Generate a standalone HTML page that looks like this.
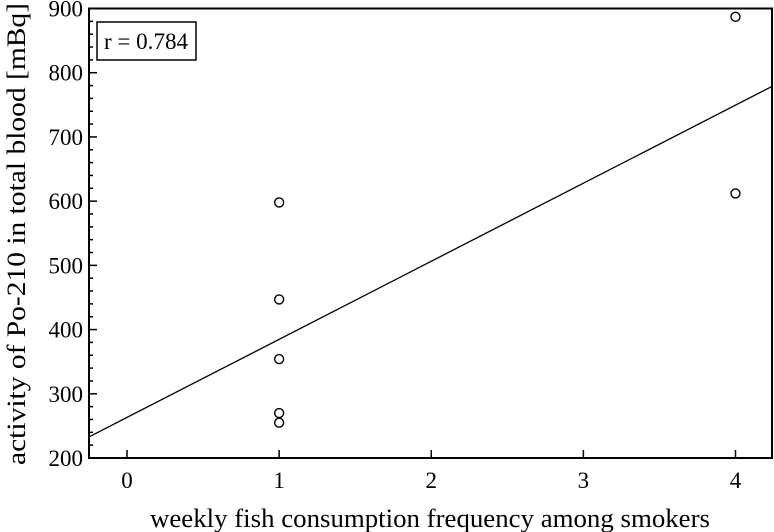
<!DOCTYPE html>
<html><head><meta charset="utf-8"><style>
body{margin:0;background:#fff}
svg{display:block;font-family:"Liberation Serif",serif}
</style></head><body>
<svg id="chart" width="774" height="532" viewBox="0 0 774 532" xmlns="http://www.w3.org/2000/svg">
<g id="axes"></g>
<g id="marks"></g>
<text x="150" y="527" font-size="26" textLength="560" lengthAdjust="spacingAndGlyphs">weekly fish consumption frequency among smokers</text>
<text transform="translate(25,465) rotate(-90)" font-size="26" textLength="462" lengthAdjust="spacingAndGlyphs">activity of Po-210 in total blood [mBq]</text>
<g>
<rect x="97" y="22" width="99" height="38" fill="#fff" stroke="#000" stroke-width="1.5"/>
<text x="146" y="49" font-size="23" text-anchor="middle" textLength="84" lengthAdjust="spacingAndGlyphs">r = 0.784</text>
</g>
</svg>
<script>
const xValues=[1,1,1,1,1,4,4];
const yValues=[598,447,354,270,255,887,612];
const xTicks=[0,1,2,3,4];
const yTicks=[200,300,400,500,600,700,800,900];
const rLabel="r = 0.784";

const X0=-0.25,X1=4.24,Y0=200,Y1=900;
const L=89,R=772,T=8.5,B=458;
const sx=v=>L+(v-X0)/(X1-X0)*(R-L);
const sy=v=>B-(v-Y0)/(Y1-Y0)*(B-T);
const NS="http://www.w3.org/2000/svg";
const axes=document.getElementById('axes'),marks=document.getElementById('marks');
function mk(tag,attrs,parent){const e=document.createElementNS(NS,tag);for(const k in attrs)e.setAttribute(k,attrs[k]);parent.appendChild(e);return e;}

const frame=mk('rect',{x:L,y:T,width:R-L,height:B-T,fill:'none',stroke:'#000','stroke-width':2},axes);



for(let v=Y0;v<=Y1;v+=20){
  const major=(v%100===0);
  const t=mk('line',{x1:L,x2:L+(major?8:4),y1:sy(v),y2:sy(v),stroke:'#000','stroke-width':1.5},axes);
  
  
}
yTicks.forEach(v=>{
  const t=mk('text',{x:L-6,y:sy(v)+8,'font-size':23,'text-anchor':'end'},axes);
  t.textContent=v;
  
  
});
xTicks.forEach(v=>{
  const t=mk('line',{x1:sx(v),x2:sx(v),y1:B,y2:B-8,stroke:'#000','stroke-width':1.5},axes);
  
  
});
xTicks.forEach(v=>{
  const t=mk('text',{x:sx(v),y:B+30,'font-size':23,'text-anchor':'middle'},axes);
  t.textContent=v;
  
  
});

const n=xValues.length;
const mx=xValues.reduce((a,b)=>a+b,0)/n,my=yValues.reduce((a,b)=>a+b,0)/n;
let sxy=0,sxx=0;for(let i=0;i<n;i++){sxy+=(xValues[i]-mx)*(yValues[i]-my);sxx+=(xValues[i]-mx)**2;}
const slope=sxy/sxx,icpt=my-slope*mx;
const ln=mk('line',{x1:sx(X0),y1:sy(icpt+slope*X0),x2:sx(X1),y2:sy(icpt+slope*X1),stroke:'#000','stroke-width':1.3},marks);



for(let i=0;i<n;i++){
  const c=mk('circle',{cx:sx(xValues[i]),cy:sy(yValues[i]),r:4.5,fill:'none',stroke:'#000','stroke-width':1.4},marks);
  
  
}
</script>
</body></html>
